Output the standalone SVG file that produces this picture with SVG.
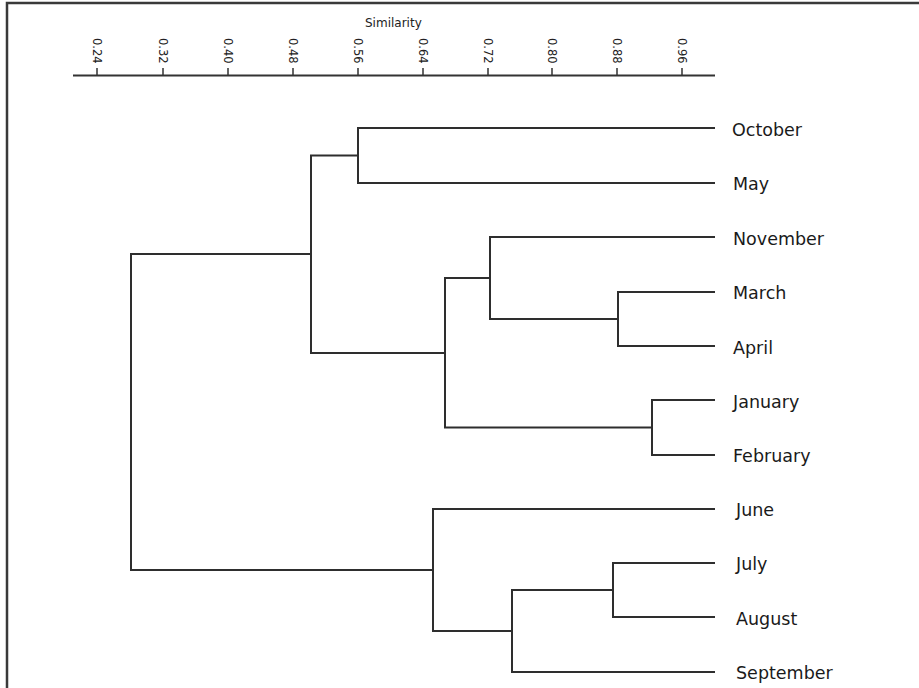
<svg xmlns="http://www.w3.org/2000/svg" width="919" height="688" viewBox="0 0 919 688">
<style>
.frame{stroke:#3a3a3a;stroke-width:2.5;fill:none}
.axis{stroke:#333;stroke-width:2;fill:none}
.tick{stroke:#333;stroke-width:1.5}
.tl{font-family:"DejaVu Sans",sans-serif;font-size:11.5px;fill:#222}
.ttl{font-family:"DejaVu Sans",sans-serif;font-size:12px;fill:#222}
.br{stroke:#2e2e2e;stroke-width:2;fill:none}
.lbl{font-family:"DejaVu Sans",sans-serif;font-size:17.5px;fill:#1a1a1a}
</style>
<rect width="919" height="688" fill="#fff"/>
<path class="frame" d="M7,688 V3 H919"/>
<g id="axis">
<text class="ttl" x="365" y="27">Similarity</text>
<path class="axis" d="M73,75.5 H715"/>
<g class="tick">
<path d="M97,68 V75 M163,68 V75 M228,68 V75 M293,68 V75 M358,68 V75 M423,68 V75 M488,68 V75 M552,68 V75 M617,68 V75 M682,68 V75"/>
</g>
<text class="tl" transform="translate(97,38) rotate(90)" dominant-baseline="central">0.24</text>
<text class="tl" transform="translate(163,38) rotate(90)" dominant-baseline="central">0.32</text>
<text class="tl" transform="translate(228,38) rotate(90)" dominant-baseline="central">0.40</text>
<text class="tl" transform="translate(293,38) rotate(90)" dominant-baseline="central">0.48</text>
<text class="tl" transform="translate(358,38) rotate(90)" dominant-baseline="central">0.56</text>
<text class="tl" transform="translate(423,38) rotate(90)" dominant-baseline="central">0.64</text>
<text class="tl" transform="translate(488,38) rotate(90)" dominant-baseline="central">0.72</text>
<text class="tl" transform="translate(552,38) rotate(90)" dominant-baseline="central">0.80</text>
<text class="tl" transform="translate(617,38) rotate(90)" dominant-baseline="central">0.88</text>
<text class="tl" transform="translate(682,38) rotate(90)" dominant-baseline="central">0.96</text>
</g>
<g id="connectors" class="br">
<path d="M715,128 H358 V183 H715"/>
<path d="M715,292 H618 V346 H715"/>
<path d="M715,237 H490 V319 H618"/>
<path d="M715,400 H652 V455 H715"/>
<path d="M490,278 H445 V427.5 H652"/>
<path d="M358,155.5 H311 V353 H445"/>
<path d="M715,563 H613 V617 H715"/>
<path d="M613,590 H512 V672 H715"/>
<path d="M715,509 H433 V631 H512"/>
<path d="M311,254 H131 V570 H433"/>
</g>
<g id="leaf-october"><text class="lbl" x="732" y="135.5">October</text></g>
<g id="leaf-may"><text class="lbl" x="733" y="190">May</text></g>
<g id="leaf-november"><text class="lbl" x="733" y="244.5">November</text></g>
<g id="leaf-march"><text class="lbl" x="733" y="299">March</text></g>
<g id="leaf-april"><text class="lbl" x="733" y="353.5">April</text></g>
<g id="leaf-january"><text class="lbl" x="733" y="407.5">January</text></g>
<g id="leaf-february"><text class="lbl" x="733" y="462">February</text></g>
<g id="leaf-june"><text class="lbl" x="736" y="516">June</text></g>
<g id="leaf-july"><text class="lbl" x="736" y="570">July</text></g>
<g id="leaf-august"><text class="lbl" x="736" y="624.5">August</text></g>
<g id="leaf-september"><text class="lbl" x="736" y="679">September</text></g>
</svg>
